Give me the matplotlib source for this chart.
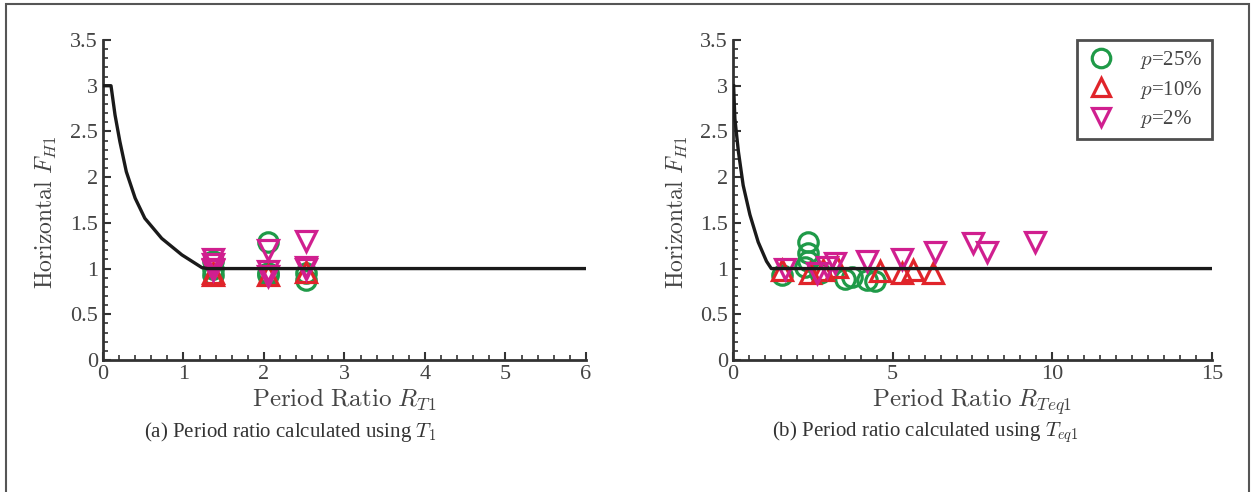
import numpy as np
import matplotlib
matplotlib.use('Agg')
import matplotlib.pyplot as plt
from matplotlib.ticker import MultipleLocator
from matplotlib.patches import Rectangle

plt.rcParams['font.family'] = ['Liberation Serif', 'DejaVu Serif']
plt.rcParams['mathtext.fontset'] = 'cm'

# design curve
curve_a_x = [0, 0.1, 0.15, 0.21, 0.29, 0.40, 0.52, 0.73, 0.98, 1.23, 1.3, 6]
curve_a_y = [3.0, 3.0, 2.68, 2.39, 2.06, 1.77, 1.55, 1.33, 1.15, 1.01, 1.0, 1.0]
curve_b_x = [0.02, 0.06, 0.17, 0.32, 0.53, 0.79, 1.05, 1.2, 15]
curve_b_y = [3.0, 2.64, 2.28, 1.91, 1.59, 1.29, 1.08, 1.0, 1.0]

# (a) period ratio using T1
a_p25_x = [1.37, 1.37, 1.37, 2.05, 2.05, 2.05, 2.52, 2.52]
a_p25_y = [0.93, 1.00, 1.08, 1.29, 0.93, 0.95, 0.87, 0.95]
a_p10_x = [1.37, 1.37, 2.05, 2.52]
a_p10_y = [0.93, 0.95, 0.93, 0.96]
a_p2_x = [1.37, 1.37, 1.37, 1.37, 2.05, 2.05, 2.05, 2.52, 2.52, 2.52]
a_p2_y = [1.10, 1.05, 1.00, 0.98, 1.20, 0.97, 0.92, 1.30, 1.02, 1.00]

# (b) period ratio using Teq1
b_p25_x = [1.52, 2.36, 2.36, 2.35, 2.25, 2.72, 3.50, 3.72, 4.19, 4.45]
b_p25_y = [0.93, 1.29, 1.17, 1.08, 1.02, 0.95, 0.89, 0.91, 0.88, 0.86]
b_p10_x = [1.52, 2.41, 2.82, 3.25, 4.60, 5.28, 5.64, 6.27]
b_p10_y = [0.98, 0.95, 0.98, 1.02, 0.97, 0.95, 0.98, 0.95]
b_p2_x = [1.63, 2.62, 2.93, 3.20, 4.19, 5.28, 6.33, 7.53, 7.95, 9.46]
b_p2_y = [1.00, 0.95, 1.02, 1.06, 1.08, 1.11, 1.18, 1.28, 1.18, 1.29]

green = '#1f9a48'
red = '#e0242a'
magenta = '#d01f8f'

fig = plt.figure(figsize=(12.54, 4.92), dpi=100)
ax1 = fig.add_axes([0.0821, 0.2683, 0.3852, 0.6504])
ax2 = fig.add_axes([0.5845, 0.2683, 0.3820, 0.6504])

# outer frame
fig.patches.append(Rectangle((6/1254, -0.05), 1243/1254, 1.05 - 4/492, transform=fig.transFigure,
                             fill=False, edgecolor='#555555', linewidth=1.5))

mk = dict(markersize=14, markerfacecolor='none', markeredgewidth=2.3, linestyle='none')

def style(ax, xmax, xmaj, xmin):
    ax.set_xlim(0, xmax)
    ax.set_ylim(0, 3.5)
    ax.xaxis.set_major_locator(MultipleLocator(xmaj))
    ax.xaxis.set_minor_locator(MultipleLocator(xmin))
    ax.yaxis.set_major_locator(MultipleLocator(0.5))
    ax.yaxis.set_minor_locator(MultipleLocator(0.1))
    ax.set_yticks([0, 0.5, 1, 1.5, 2, 2.5, 3, 3.5])
    ax.set_yticklabels(['0', '0.5', '1', '1.5', '2', '2.5', '3', '3.5'])
    for s in ['top', 'right']:
        ax.spines[s].set_visible(False)
    for s in ['left', 'bottom']:
        ax.spines[s].set_linewidth(2)
        ax.spines[s].set_color('#333333')
    ax.tick_params(which='major', direction='in', length=6, width=1.5, labelsize=16, colors='#333333')
    ax.tick_params(which='minor', direction='in', length=3.5, width=1.2, colors='#333333')
    ax.tick_params(axis='both', labelcolor='#444444')
    ax.set_ylabel(r'$\mathrm{Horizontal}\ F_{H1}$', fontsize=17, color='#444444')
    ax.yaxis.set_label_coords(-0.09, 0.46)

ax1.plot(curve_a_x, curve_a_y, color='#1a1a1a', linewidth=2.4, zorder=3)
ax1.plot(a_p25_x, a_p25_y, marker='o', markeredgecolor=green, **mk)
ax1.plot(a_p10_x, a_p10_y, marker='^', markeredgecolor=red, **mk)
ax1.plot(a_p2_x, a_p2_y, marker='v', markeredgecolor=magenta, **mk)
style(ax1, 6, 1, 0.2)
ax1.set_xlabel(r'$\mathrm{Period\ Ratio}\ R_{T1}$', fontsize=18, color='#444444', labelpad=2)

ax2.plot(curve_b_x, curve_b_y, color='#1a1a1a', linewidth=2.4, zorder=3)
ax2.plot(b_p25_x, b_p25_y, marker='o', markeredgecolor=green, label=r'$p$=25%', **mk)
ax2.plot(b_p10_x, b_p10_y, marker='^', markeredgecolor=red, label=r'$p$=10%', **mk)
ax2.plot(b_p2_x, b_p2_y, marker='v', markeredgecolor=magenta, label=r'$p$=2%', **mk)
style(ax2, 15, 5, 0.5)
ax2.set_xlabel(r'$\mathrm{Period\ Ratio}\ R_{Teq1}$', fontsize=18, color='#444444', labelpad=2)

leg = ax2.legend(loc='upper right', bbox_to_anchor=(1.0, 1.0), borderaxespad=0, fontsize=15,
                 frameon=True, fancybox=False, edgecolor='#222222', handlelength=1.4,
                 handletextpad=1.2, labelspacing=0.35, borderpad=0.45, markerscale=0.95)
leg.get_frame().set_linewidth(2)
for t in leg.get_texts():
    t.set_color('#444444')

fig.text(0.231, 0.122, r'(a) Period ratio calculated using $T_1$', ha='center', va='center',
         fontsize=15, color='#333333')
fig.text(0.738, 0.122, r'(b) Period ratio calculated using $T_{eq1}$', ha='center', va='center',
         fontsize=15, color='#333333')

fig.savefig('out.png', dpi=100)
